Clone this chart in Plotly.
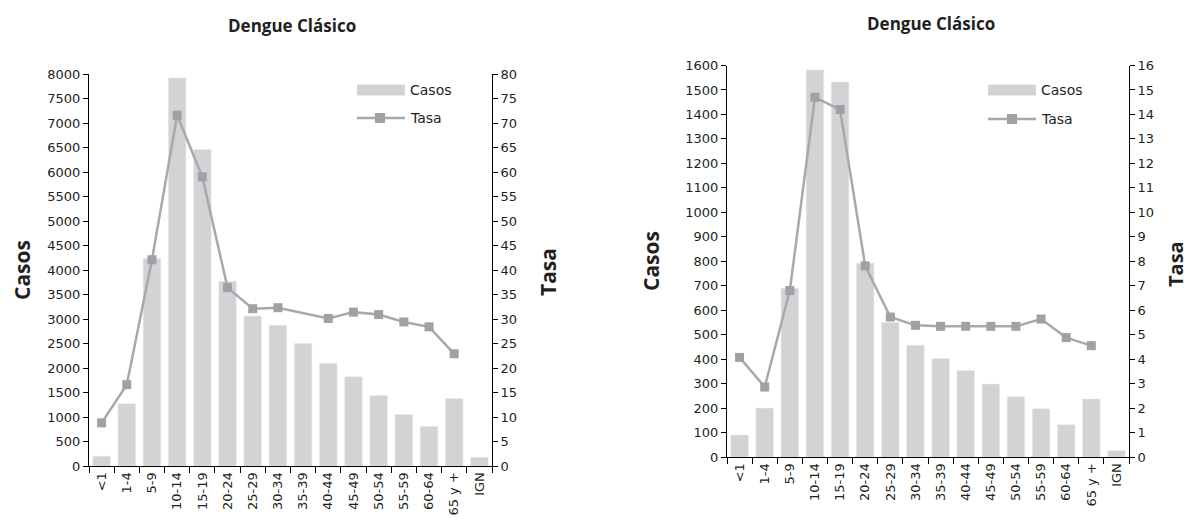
import plotly.graph_objects as go

# Age groups shown on both panels
grupos = ["<1", "1-4", "5-9", "10-14", "15-19", "20-24", "25-29", "30-34",
          "35-39", "40-44", "45-49", "50-54", "55-59", "60-64", "65 y +", "IGN"]

# Left panel: cases and rate per age group
casos_a = [200, 1270, 4240, 7920, 6460, 3770, 3060, 2870,
           2500, 2090, 1820, 1440, 1050, 810, 1380, 180]
tasa_a = [8.8, 16.6, 42.1, 71.6, 59.0, 36.4, 32.1, 32.3,
          None, 30.1, 31.4, 30.9, 29.4, 28.4, 22.9, None]

# Right panel: cases and rate per age group
casos_b = [90, 200, 690, 1582, 1533, 792, 550, 457,
           403, 354, 298, 246, 197, 132, 237, 26]
tasa_b = [4.07, 2.86, 6.8, 14.7, 14.2, 7.81, 5.72, 5.38,
          5.34, 5.34, 5.34, 5.34, 5.64, 4.88, 4.55, None]

TITULO = "Dengue Clásico"

W, H = 1188, 521
BAR = "#d1d3d4"
LINE = "#a7a9ac"
MARK = "#9fa1a4"
INK = "#231f20"
FONT = "Open Sans"
TICK_FONT = "DejaVu Sans"


def px(x):
    return x / W


def py(y):
    return 1 - y / H


fig = go.Figure()

fig.add_trace(go.Bar(x=grupos, y=casos_a, name="Casos", marker_color=BAR,
                     xaxis="x", yaxis="y", showlegend=False))
fig.add_trace(go.Scatter(x=grupos, y=tasa_a, name="Tasa", mode="lines+markers",
                         connectgaps=True,
                         line=dict(color=LINE, width=2.5),
                         marker=dict(symbol="square", size=9, color=MARK),
                         xaxis="x", yaxis="y2", showlegend=False))
fig.add_trace(go.Bar(x=grupos, y=casos_b, name="Casos", marker_color=BAR,
                     xaxis="x2", yaxis="y3", showlegend=False))
fig.add_trace(go.Scatter(x=grupos, y=tasa_b, name="Tasa", mode="lines+markers",
                         line=dict(color=LINE, width=2.5),
                         marker=dict(symbol="square", size=9, color=MARK),
                         xaxis="x2", yaxis="y4", showlegend=False))

tick_font = dict(family=TICK_FONT, size=13, color=INK)
common_y = dict(showline=True, linecolor="black", linewidth=1, ticks="outside",
                ticklen=5, tickcolor="black", showgrid=False, zeroline=False,
                tickfont=tick_font, automargin=False)
common_x = dict(type="category", showline=True, linecolor="black", linewidth=1,
                ticks="outside", ticklen=6, tickcolor="black", tickson="boundaries",
                tickangle=-90, showgrid=False, tickfont=tick_font, automargin=False,
                range=[-0.5, len(grupos) - 0.5])

fig.update_layout(
    width=W, height=H,
    margin=dict(l=0, r=0, t=0, b=0, pad=0, autoexpand=False),
    paper_bgcolor="white", plot_bgcolor="white",
    bargap=0.3,
    font=dict(family=FONT, color=INK),
    xaxis=dict(domain=[px(89), px(492)], anchor="y", **common_x),
    yaxis=dict(domain=[py(466), py(74)], anchor="x", range=[0, 8000], dtick=500, **common_y),
    yaxis2=dict(overlaying="y", side="right", anchor="x", range=[0, 80], dtick=5, **common_y),
    xaxis2=dict(domain=[px(727), px(1129)], anchor="y3", **common_x),
    yaxis3=dict(domain=[py(457), py(65.5)], anchor="x2", range=[0, 1600], dtick=100, **common_y),
    yaxis4=dict(overlaying="y3", side="right", anchor="x2", range=[0, 16], dtick=1, **common_y),
)

annotations = []
shapes = []


def text(x, y, s, size, bold=False, angle=0, xanchor="center", family=FONT):
    annotations.append(dict(
        x=px(x), y=py(y), xref="paper", yref="paper", showarrow=False,
        text=f"<b>{s}</b>" if bold else s, textangle=angle,
        xanchor=xanchor, yanchor="middle",
        font=dict(family=family, size=size, color=INK)))


def legend(x0, x1, y_bar, y_line, mx):
    # Casos patch
    shapes.append(dict(type="rect", xref="paper", yref="paper",
                       x0=px(x0), x1=px(x1), y0=py(y_bar + 5.5), y1=py(y_bar - 5.5),
                       fillcolor=BAR, line=dict(width=0)))
    # Tasa line with square marker
    shapes.append(dict(type="line", xref="paper", yref="paper",
                       x0=px(x0), x1=px(x1), y0=py(y_line), y1=py(y_line),
                       line=dict(color=LINE, width=2.5)))
    shapes.append(dict(type="rect", xref="paper", yref="paper",
                       x0=px(mx - 5), x1=px(mx + 5), y0=py(y_line + 5), y1=py(y_line - 5),
                       fillcolor=MARK, line=dict(width=0)))
    text(x1 + 3, y_bar, "Casos", 14, xanchor="left", family=TICK_FONT)
    text(x1 + 3, y_line, "Tasa", 14, xanchor="left", family=TICK_FONT)


# Panel titles
text(292, 25, TITULO, 17, bold=True)
text(931, 24, TITULO, 17, bold=True)

# Axis titles
text(22, 270, "Casos", 21, bold=True, angle=-90)
text(548, 272, "Tasa", 21, bold=True, angle=-90)
text(651, 261, "Casos", 21, bold=True, angle=-90)
text(1175, 264, "Tasa", 20, bold=True, angle=-90)

legend(357, 405, 90, 118, 380)
legend(988, 1036, 90, 119, 1012)

fig.update_layout(annotations=annotations, shapes=shapes)

fig.write_html("out.html")
